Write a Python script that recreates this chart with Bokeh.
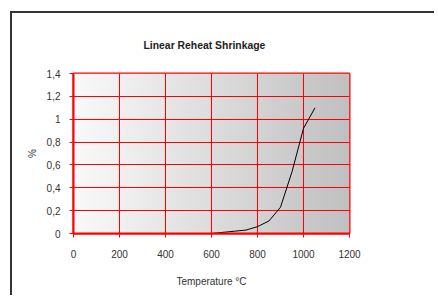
import numpy as np
from bokeh.plotting import figure
from bokeh.models import FixedTicker, CustomJSTickFormatter, Range1d
from bokeh.embed import file_html
from bokeh.resources import INLINE

# data
temperature = [600, 650, 700, 750, 800, 850, 900, 950, 1000, 1050]
shrinkage = [0.0, 0.01, 0.02, 0.03, 0.06, 0.11, 0.23, 0.54, 0.92, 1.10]
x_ticks = [0, 200, 400, 600, 800, 1000, 1200]
y_ticks = [0, 0.2, 0.4, 0.6, 0.8, 1.0, 1.2, 1.4]

p = figure(width=424, height=284, output_backend="svg", toolbar_location=None,
           x_range=Range1d(0, 1200), y_range=Range1d(0, 1.4),
           min_border_left=61, min_border_right=87, min_border_top=60, min_border_bottom=64,
           title="Linear Reheat Shrinkage")
p.styles = {"border-left": "2px solid #333", "border-top": "2px solid #333",
            "margin-left": "10px", "margin-top": "11px"}

# gradient background
n = 256
grad = np.zeros((1, n), dtype=np.uint32)
view = grad.view(dtype=np.uint8).reshape((1, n, 4))
lv = np.linspace(250, 192, n).astype(np.uint8)
view[0, :, 0] = lv
view[0, :, 1] = lv
view[0, :, 2] = lv
view[0, :, 3] = 255
p.image_rgba(image=[grad], x=x_ticks[0], y=y_ticks[0], dw=x_ticks[-1] - x_ticks[0],
             dh=y_ticks[-1] - y_ticks[0], level="image")

p.line(temperature, shrinkage, line_color="black", line_width=1)

p.title.align = "left"
p.title.offset = 70
p.title.text_font = "Liberation Sans"
p.title.text_font_size = "10.4px"
p.title.text_font_style = "bold"
p.title.text_color = "#222222"
p.title.standoff = 46

p.outline_line_color = "red"
p.outline_line_width = 2
p.background_fill_color = "white"
p.border_fill_color = "white"

for g in (p.xgrid, p.ygrid):
    g.grid_line_color = "red"
    g.grid_line_width = 1
p.xgrid.ticker = FixedTicker(ticks=x_ticks)
p.ygrid.ticker = FixedTicker(ticks=y_ticks)

p.xaxis.ticker = FixedTicker(ticks=x_ticks)
p.yaxis.ticker = FixedTicker(ticks=y_ticks)
p.yaxis.formatter = CustomJSTickFormatter(code="""
    var s = tick.toFixed(1);
    if (s.endsWith('.0')) { s = s.slice(0, -2); }
    return s.replace('.', ',');
""")
p.xaxis.axis_label = "Temperature °C"
p.yaxis.axis_label = "%"

for ax in (p.xaxis[0], p.yaxis[0]):
    ax.axis_line_color = "red"
    ax.axis_line_width = 2
    ax.major_tick_line_color = "red"
    ax.major_tick_out = 4
    ax.major_tick_in = 0
    ax.minor_tick_line_color = None
    ax.major_label_text_font = "Liberation Sans"
    ax.major_label_text_font_size = "10px"
    ax.major_label_text_color = "#333333"
    ax.axis_label_text_font = "Liberation Sans"
    ax.axis_label_text_font_size = "10px"
    ax.axis_label_text_font_style = "normal"
    ax.axis_label_text_color = "#333333"

p.xaxis.major_label_standoff = 12
p.xaxis.axis_label_standoff = 15
p.yaxis.major_label_standoff = 9
p.yaxis.axis_label_standoff = 6

open("out.html", "w").write(file_html(p, INLINE))
